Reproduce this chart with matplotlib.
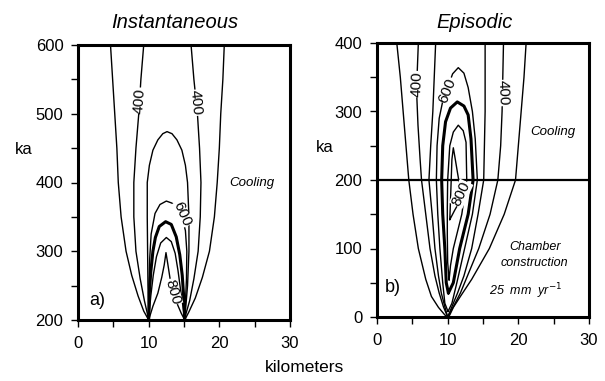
import matplotlib
matplotlib.use("Agg")
import matplotlib.pyplot as plt

plt.rcParams['font.family'] = ['Liberation Sans', 'DejaVu Sans']

# ---- Instantaneous emplacement: isotherms (deg C) as (km, ka) traces ----
inst_300_left = [(4.6, 600), (4.9, 550), (5.2, 500), (5.5, 450), (5.7, 400), (6.1, 350),
                 (6.8, 300), (7.6, 265), (8.5, 235), (9.3, 213), (10.0, 200)]
inst_300_right = [(20.7, 600), (20.5, 550), (20.2, 500), (20.0, 450), (19.7, 400), (19.3, 350),
                  (18.6, 300), (17.6, 262), (16.6, 232), (15.7, 212), (15.1, 200)]
inst_400_left = [(9.3, 600), (8.9, 550), (8.6, 500), (8.2, 450), (7.9, 400), (7.9, 350),
                 (8.2, 300), (8.8, 260), (9.4, 228), (9.8, 210), (10.0, 200)]
inst_400_right = [(16.0, 600), (16.4, 550), (16.9, 500), (17.2, 450), (17.4, 400), (17.3, 350),
                  (17.0, 300), (16.4, 260), (15.8, 228), (15.3, 210), (15.1, 200)]
inst_500 = [(10.0, 200), (9.9, 250), (9.85, 300), (9.8, 350), (9.8, 400), (10.1, 425), (10.6, 447),
            (11.3, 462), (12.0, 471), (12.6, 474), (13.3, 471), (14.0, 462), (14.7, 447),
            (15.2, 425), (15.5, 400), (15.7, 350), (15.7, 300), (15.5, 250), (15.1, 200)]
inst_600 = [(10.0, 200), (10.05, 250), (10.15, 290), (10.35, 325), (10.9, 355), (11.6, 368),
            (12.5, 373), (13.3, 370), (14.0, 362), (14.7, 350), (15.2, 330), (15.4, 300),
            (15.35, 260), (15.2, 225), (15.1, 200)]
inst_700 = [(10.0, 200), (10.1, 240), (10.3, 270), (10.6, 300), (10.95, 320), (11.5, 336),
            (12.4, 343), (13.2, 339), (13.9, 321), (14.4, 295), (14.75, 265), (14.95, 235),
            (15.1, 200)]
inst_750 = [(10.0, 200), (10.3, 235), (10.65, 265), (11.1, 292), (11.7, 312), (12.5, 320),
            (13.2, 314), (13.75, 297), (14.15, 272), (14.5, 245), (14.85, 220), (15.1, 200)]
inst_800 = [(10.0, 200), (10.6, 220), (11.3, 239), (11.85, 262), (12.2, 280), (12.45, 298),
            (12.7, 282), (13.0, 262), (13.45, 240), (14.1, 222), (14.6, 210), (15.1, 200)]

# ---- Episodic emplacement (25 mm/yr) ----
epi_300_left = [(2.8, 400), (3.3, 350), (3.7, 300), (4.1, 250), (4.5, 200), (5.1, 150),
                (5.85, 100), (6.9, 55), (7.7, 30), (8.7, 14), (9.6, 3), (10.0, 0)]
epi_300_right = [(21.1, 400), (20.8, 350), (20.4, 300), (20.0, 250), (19.6, 200), (18.0, 150),
                 (15.9, 100), (13.4, 55), (11.8, 30), (10.8, 14), (10.3, 3), (10.0, 0)]
epi_400_left = [(5.85, 400), (5.7, 360), (5.6, 330), (5.8, 280), (6.1, 230), (6.3, 200),
                (6.9, 150), (7.5, 100), (8.2, 60), (8.8, 35), (9.4, 15), (10.0, 0)]
epi_400_right = [(17.9, 400), (17.8, 350), (17.7, 300), (17.5, 250), (17.1, 200), (16.0, 150),
                 (14.4, 100), (12.8, 60), (11.8, 35), (10.8, 15), (10.0, 0)]
epi_500_left = [(8.3, 400), (8.1, 350), (7.9, 300), (7.6, 250), (7.35, 200), (7.8, 150),
                (8.2, 100), (8.7, 60), (9.1, 35), (9.6, 15), (10.0, 0)]
epi_500_right = [(15.3, 400), (15.3, 350), (15.3, 300), (15.2, 250), (15.1, 200), (14.3, 150),
                 (13.4, 100), (12.3, 60), (11.4, 35), (10.6, 15), (10.0, 0)]
epi_600 = [(10.05, 8), (9.6, 20), (9.3, 50), (8.9, 100), (8.6, 150), (8.4, 200), (8.5, 250),
           (8.8, 290), (9.3, 315), (10.0, 335), (10.7, 355), (11.5, 364), (12.3, 356),
           (12.9, 335), (13.5, 300), (13.9, 260), (14.2, 200), (13.5, 150), (12.4, 100),
           (11.3, 50), (10.6, 20), (10.05, 8)]
epi_700 = [(10.1, 35), (9.8, 50), (9.6, 100), (9.3, 150), (9.15, 200), (9.3, 250), (9.7, 285),
           (10.4, 305), (11.36, 314), (12.3, 308), (12.9, 295), (13.3, 260), (13.6, 200),
           (12.9, 150), (11.7, 100), (10.8, 50), (10.1, 35)]
epi_750 = [(10.2, 54), (10.0, 80), (9.95, 120), (9.95, 160), (10.0, 200), (10.3, 250),
           (10.8, 270), (11.5, 280), (12.2, 272), (12.6, 255), (12.7, 200), (12.0, 150),
           (10.8, 100), (10.4, 75), (10.2, 54)]
epi_800 = [(10.3, 142), (10.4, 170), (10.5, 200), (10.6, 230), (10.8, 247), (11.0, 235),
           (11.4, 210), (11.9, 180), (11.5, 165), (11.0, 156), (10.3, 142)]

# contour label text, position (km, ka) and rotation
inst_labels = [("400", 8.7, 519, 86), ("400", 16.7, 516, -85),
               ("600", 14.67, 354, -66), ("800", 13.37, 241, -74)]
epi_labels = [("400", 5.6, 340, 88), ("600", 9.97, 331, 68),
              ("400", 17.8, 327, -88), ("800", 11.9, 180, 65)]

km_ticks = [0, 10, 20, 30]
km_minor = [5, 15, 25]
inst_ticks = [200, 300, 400, 500, 600]
inst_minor = [250, 350, 450, 550]
epi_ticks = [0, 100, 200, 300, 400]
epi_minor = [50, 150, 250, 350]

W, H = 605, 381
fig = plt.figure(figsize=(W / 100, H / 100), dpi=100)


def axes_px(x0, y0, x1, y1):
    return fig.add_axes([x0 / W, 1 - y1 / H, (x1 - x0) / W, (y1 - y0) / H])


ax_a = axes_px(78, 45, 290, 320)
ax_b = axes_px(377, 43, 589, 317)

THIN, THICK = 1.0, 2.2


def trace(ax, pts, lw=THIN):
    xs = [p[0] for p in pts]
    ys = [p[1] for p in pts]
    ax.plot(xs, ys, color="black", lw=lw, solid_joinstyle="round", solid_capstyle="round",
            zorder=2)


def style(ax, yt, ym, ylim):
    ax.set_xlim(0, 30)
    ax.set_ylim(*ylim)
    ax.set_xticks(km_ticks)
    ax.set_xticks(km_minor, minor=True)
    ax.set_yticks(yt)
    ax.set_yticks(ym, minor=True)
    ax.tick_params(which="both", direction="out", length=5, width=1, labelsize=12,
                   top=False, right=False)
    ax.tick_params(axis="x", pad=6.5)
    ax.tick_params(axis="y", pad=5.5)
    for s in ax.spines.values():
        s.set_linewidth(2.2)
        s.set_zorder(5)


def put_labels(ax, labels):
    for txt, x, y, rot in labels:
        ax.text(x, y, txt, fontsize=11, rotation=rot, rotation_mode="anchor",
                ha="center", va="center", zorder=4,
                bbox=dict(facecolor="white", edgecolor="none", pad=0.3))


# panel a
for c in (inst_300_left, inst_300_right, inst_400_left, inst_400_right,
          inst_500, inst_600, inst_750, inst_800):
    trace(ax_a, c)
trace(ax_a, inst_700, THICK)
put_labels(ax_a, inst_labels)
style(ax_a, inst_ticks, inst_minor, (200, 600))
ax_a.text(24.6, 399, "Cooling", fontsize=9.5, style="italic", ha="center", va="center")
ax_a.text(2.7, 229, "a)", fontsize=13, ha="center", va="center")

# panel b
for c in (epi_300_left, epi_300_right, epi_400_left, epi_400_right,
          epi_500_left, epi_500_right, epi_600, epi_750, epi_800):
    trace(ax_b, c)
trace(ax_b, epi_700, THICK)
ax_b.axhline(200, color="black", lw=1.6, zorder=3)
put_labels(ax_b, epi_labels)
style(ax_b, epi_ticks, epi_minor, (0, 400))
ax_b.text(24.9, 270, "Cooling", fontsize=9.5, style="italic", ha="center", va="center")
ax_b.text(22.3, 102, "Chamber", fontsize=9, style="italic", ha="center", va="center")
ax_b.text(22.3, 79, "construction", fontsize=9, style="italic", ha="center", va="center")
ax_b.text(21.1, 38, r"25  mm  yr$^{-1}$", fontsize=9, style="italic", ha="center",
          va="center")
ax_b.text(2.2, 43, "b)", fontsize=13, ha="center", va="center")

# titles and axis names
fig.text(175 / W, 1 - 22.5 / H, "Instantaneous", fontsize=14.5, style="italic",
         ha="center", va="center")
fig.text(475 / W, 1 - 22 / H, "Episodic", fontsize=14.5, style="italic",
         ha="center", va="center")
fig.text(23.7 / W, 1 - 150 / H, "ka", fontsize=12, ha="center", va="center")
fig.text(325 / W, 1 - 147 / H, "ka", fontsize=12, ha="center", va="center")
fig.text(305 / W, 1 - 367 / H, "kilometers", fontsize=12.5, ha="center", va="center")

fig.savefig("out.png", dpi=100)
